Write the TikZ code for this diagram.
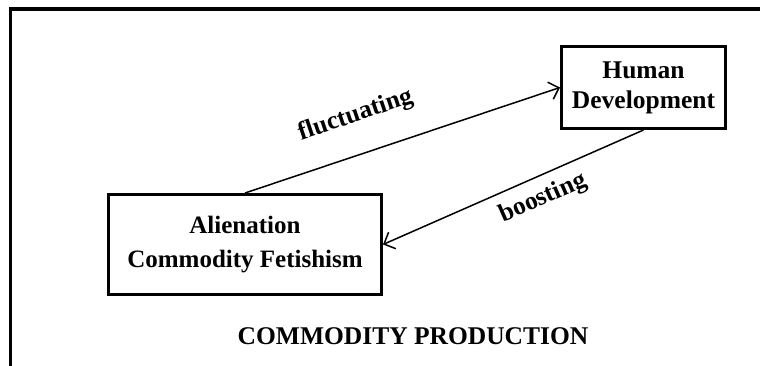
\documentclass[tikz,border=0pt]{standalone}
\usepackage{fontspec}
\setmainfont{Liberation Serif}
\usetikzlibrary{arrows.meta,positioning}

\begin{document}
\begin{tikzpicture}[x=1pt,y=1pt,font=\bfseries\fontsize{25.5}{30}\selectfont]
  \tikzstyle{box}=[draw,line width=3pt,align=center,inner sep=0pt]
  \tikzstyle{arrow}=[line width=1.5pt,-{Straight Barb[length=9pt,width=18pt]}]
  \tikzstyle{lbl}=[sloped,inner sep=2pt]

  % page frame, cut off at right and bottom
  \clip (0,0) rectangle (760,365);
  \draw [line width=3.3pt] (10.7,-20) -- (10.7,356) -- (780,356);

  % the two boxes
  \node [box,minimum width=273pt,minimum height=100pt,
         font=\bfseries\fontsize{25}{34}\selectfont] (alien) at (245,120.5)
        {Alienation\\Commodity Fetishism};
  \node [box,minimum width=164pt,minimum height=82pt] (human) at (643.5,277.5)
        {Human\\Development};

  % the title at the bottom
  \node (title) at (413,28.5) {COMMODITY PRODUCTION};

  % connectors
  \draw [arrow] (alien.north) -- node [lbl,pos=0.39,above=24pt] {fluctuating} (human.west);
  \draw [arrow] (human.south) -- node [lbl,pos=0.42,below=8pt] {boosting} (alien.east);

\end{tikzpicture}
\end{document}
